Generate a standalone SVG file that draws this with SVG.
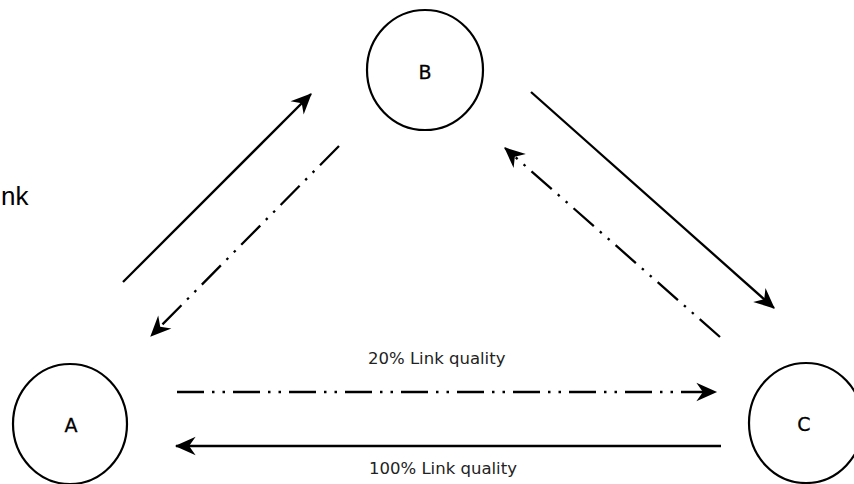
<svg xmlns="http://www.w3.org/2000/svg" width="854" height="484" viewBox="0 0 854 484">
<style>
.node{fill:#fff;stroke:#000;stroke-width:2.2}
.lbl{font-family:"DejaVu Sans",sans-serif;font-size:19px;fill:#000;text-anchor:middle;stroke:#000;stroke-width:0.3}
.cap{font-family:"DejaVu Sans",sans-serif;font-size:16.5px;fill:#222}
.solid{stroke:#000;stroke-width:2.3;fill:none;marker-end:url(#ah)}
.dash{stroke:#000;stroke-width:2.3;fill:none;stroke-dasharray:27 8 2.5 8 2.5 8;marker-end:url(#ah)}
</style>
<defs>
<marker id="ah" markerUnits="userSpaceOnUse" markerWidth="24" markerHeight="24" viewBox="-20 -10 22 20" refX="0" refY="0" orient="auto">
<path d="M1,0 L-18,-8.5 L-12,0 L-18,8.5 Z" fill="#000"/>
</marker>
</defs>
<rect width="854" height="484" fill="#fff"/>
<text x="1" y="205" font-family="Liberation Sans, Arial, sans-serif" font-size="26" fill="#000">nk</text>
<g id="connectors">
<line class="solid" x1="123" y1="282" x2="311" y2="94"/>
<line class="dash" x1="339" y1="146" x2="151" y2="336"/>
<line class="solid" x1="531" y1="92" x2="774" y2="308"/>
<line class="dash" x1="720" y1="337" x2="505" y2="148"/>
<line class="dash" x1="177" y1="392" x2="716" y2="392"/>
<line class="solid" x1="721" y1="446" x2="176" y2="446"/>
<text class="cap" x="368" y="364">20% Link quality</text>
<text class="cap" x="369" y="474">100% Link quality</text>
</g>
<g id="node-A">
<ellipse class="node" cx="70" cy="424" rx="57" ry="60"/>
<text class="lbl" x="71" y="432">A</text>
</g>
<g id="node-B">
<ellipse class="node" cx="425" cy="70" rx="58" ry="60"/>
<text class="lbl" x="425" y="79">B</text>
</g>
<g id="node-C">
<ellipse class="node" cx="806" cy="423" rx="57" ry="60"/>
<text class="lbl" x="804" y="431">C</text>
</g>
</svg>
